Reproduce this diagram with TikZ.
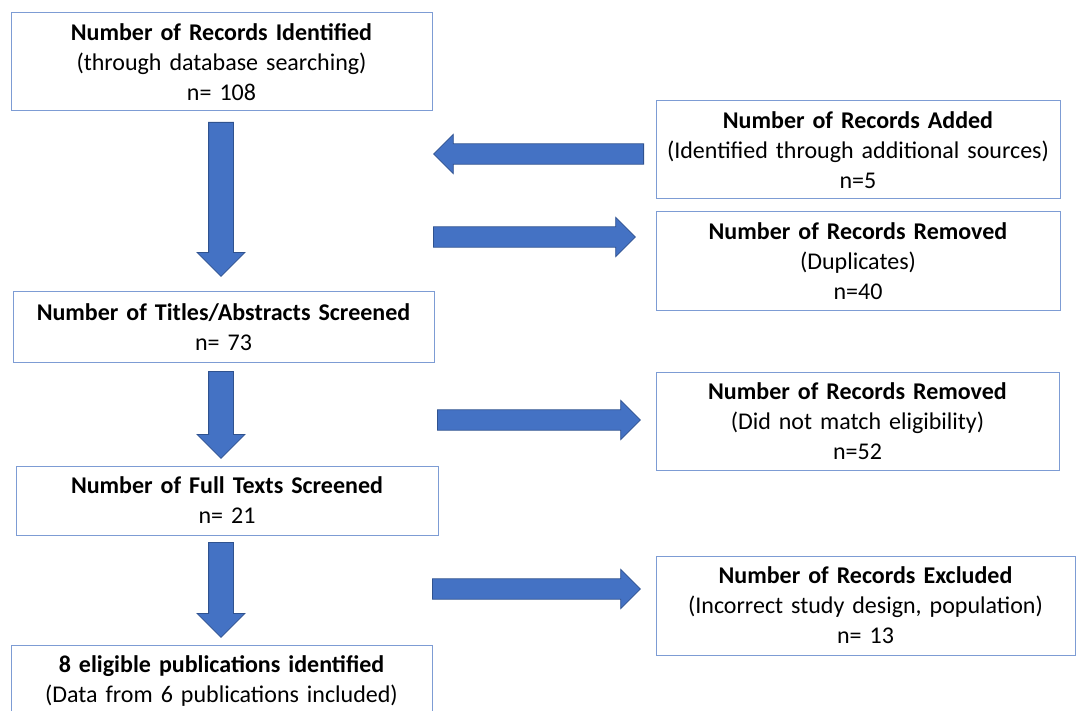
\documentclass[tikz,border=0pt]{standalone}
\usepackage{fontspec}
\setmainfont{Carlito}
\usepackage{tikz}
\usetikzlibrary{shapes.arrows,positioning,calc}
\definecolor{boxline}{RGB}{125,156,212}
\definecolor{arrowfill}{RGB}{68,114,196}
\definecolor{arrowline}{RGB}{47,82,143}
\tikzset{
  recbox/.style={rectangle,draw=boxline,fill=white,line width=1pt,
    text width=#1,minimum width=#1,align=center,inner sep=0pt,
    font=\fontsize{24}{30}\selectfont},
  flowarrow/.style={single arrow,draw=arrowline,fill=arrowfill,line width=0.8pt,
    inner xsep=0pt,minimum width=0pt,single arrow tip angle=90,anchor=tail},
  downflow/.style={flowarrow,rotate=-90,minimum height=#1,inner ysep=12pt,
    single arrow head extend=11.5pt},
  sideflow/.style={flowarrow,minimum height=#1,inner ysep=9.8pt,
    single arrow head extend=9.5pt},
}

\begin{document}
\begin{tikzpicture}[x=1pt,y=-1pt]
\clip (0,0) rectangle (1076,711);

% ── Main column (left, top to bottom) ────────────────────────────────────
\node[recbox=421pt, minimum height=98pt] (ident) at (221.5,62)
  {\textbf{Number of Records Identified}\\(through database searching)\\n= 108};
\node[recbox=421pt, minimum height=70pt] (titles) at (223.5,327)
  {\textbf{Number of Titles/Abstracts Screened}\\n= 73};
\node[recbox=422pt, minimum height=69pt] (full) at (227,500.5)
  {\textbf{Number of Full Texts Screened}\\n= 21};
\node[recbox=421pt, minimum height=71pt] (final) at (221.5,680.5)
  {\textbf{8 eligible publications identified}\\(Data from 6 publications included)};

% ── Side boxes (right column) ────────────────────────────────────────────
\node[recbox=404pt, minimum height=98pt] (added) at (858,150)
  {\textbf{Number of Records Added}\\(Identified through additional sources)\\n=5};
\node[recbox=404pt, minimum height=98pt] (dupl) at (858,261)
  {\textbf{Number of Records Removed}\\(Duplicates)\\n=40};
\node[recbox=403pt, minimum height=98pt] (inelig) at (857.5,421)
  {\textbf{Number of Records Removed}\\(Did not match eligibility)\\n=52};
\node[recbox=419pt, minimum height=99pt] (excl) at (865.5,605.5)
  {\textbf{Number of Records Excluded}\\(Incorrect study design, population)\\n= 13};

% ── Block arrows down the main column (placed by their tails) ────────────
\node[downflow=154pt] (d1) at (221,122) {};
\node[downflow=87pt]  (d2) at (221,371) {};
\node[downflow=95pt]  (d3) at (221,542) {};

% ── Block arrows to and from the side boxes ──────────────────────────────
\node[sideflow=210pt, rotate=180] (inflow) at (644,154) {};
\node[sideflow=202pt] (out1) at (433,237) {};
\node[sideflow=203pt] (out2) at (437,420) {};
\node[sideflow=208pt] (out3) at (432,589) {};

\end{tikzpicture}
\end{document}
